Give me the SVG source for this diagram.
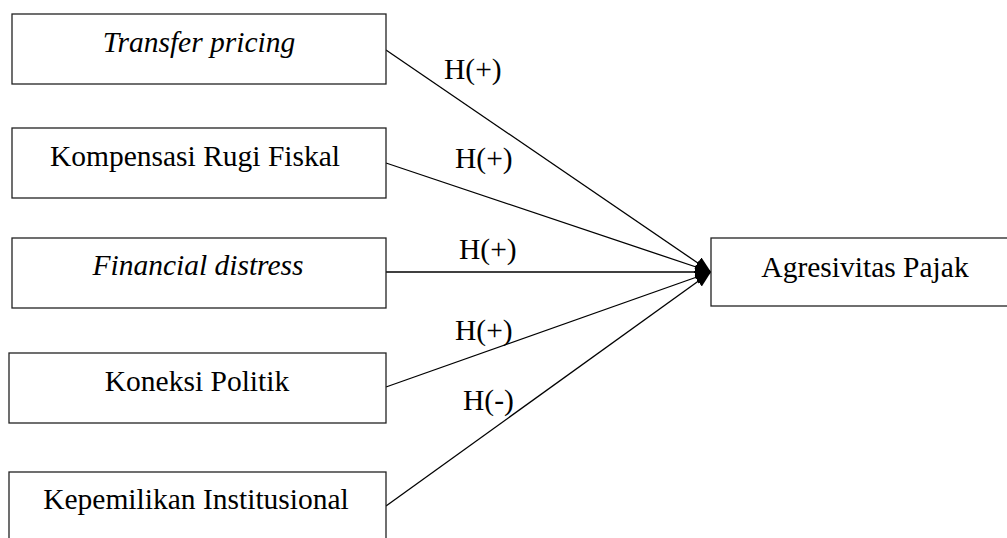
<svg xmlns="http://www.w3.org/2000/svg" width="1007" height="538" viewBox="0 0 1007 538">
<style>
.box{fill:#fff;stroke:#222;stroke-width:1.3}
.t{font-family:"Liberation Serif","Times New Roman",serif;font-size:29.5px;fill:#000;text-anchor:middle}
.i{font-style:italic}
.lbl{font-family:"Liberation Serif","Times New Roman",serif;font-size:29.5px;fill:#000}
.c{stroke:#000;stroke-width:1.3;fill:none;marker-end:url(#ah)}
</style>
<defs>
<marker id="ah" markerUnits="userSpaceOnUse" markerWidth="18" markerHeight="16" refX="16" refY="8" orient="auto">
<path d="M0,1.5 L16,8 L0,14.5 Z" fill="#000"/>
</marker>
</defs>
<rect width="1007" height="538" fill="#fff"/>
<g id="connectors">
<line class="c" x1="386" y1="50" x2="711" y2="272"/>
<line class="c" x1="386" y1="163" x2="711" y2="272"/>
<line class="c" x1="386" y1="272" x2="711" y2="272"/>
<line class="c" x1="386" y1="387" x2="711" y2="272"/>
<line class="c" x1="386" y1="506" x2="711" y2="272"/>
<text class="lbl" x="444" y="79">H(+)</text>
<text class="lbl" x="455" y="168">H(+)</text>
<text class="lbl" x="459" y="259">H(+)</text>
<text class="lbl" x="455" y="340">H(+)</text>
<text class="lbl" x="463" y="410">H(-)</text>
</g>
<g id="n1"><rect class="box" x="12" y="14" width="374" height="70"/><text class="t i" x="199" y="52">Transfer pricing</text></g>
<g id="n2"><rect class="box" x="12" y="128" width="374" height="70"/><text class="t" x="195" y="166">Kompensasi Rugi Fiskal</text></g>
<g id="n3"><rect class="box" x="12" y="238" width="374" height="70"/><text class="t i" x="198" y="275">Financial distress</text></g>
<g id="n4"><rect class="box" x="9" y="353" width="377" height="70"/><text class="t" x="197" y="391">Koneksi Politik</text></g>
<g id="n5"><rect class="box" x="9" y="472" width="377" height="80"/><text class="t" x="196" y="509">Kepemilikan Institusional</text></g>
<g id="n6"><rect class="box" x="711" y="238" width="310" height="68"/><text class="t" x="865" y="277">Agresivitas Pajak</text></g>
</svg>
